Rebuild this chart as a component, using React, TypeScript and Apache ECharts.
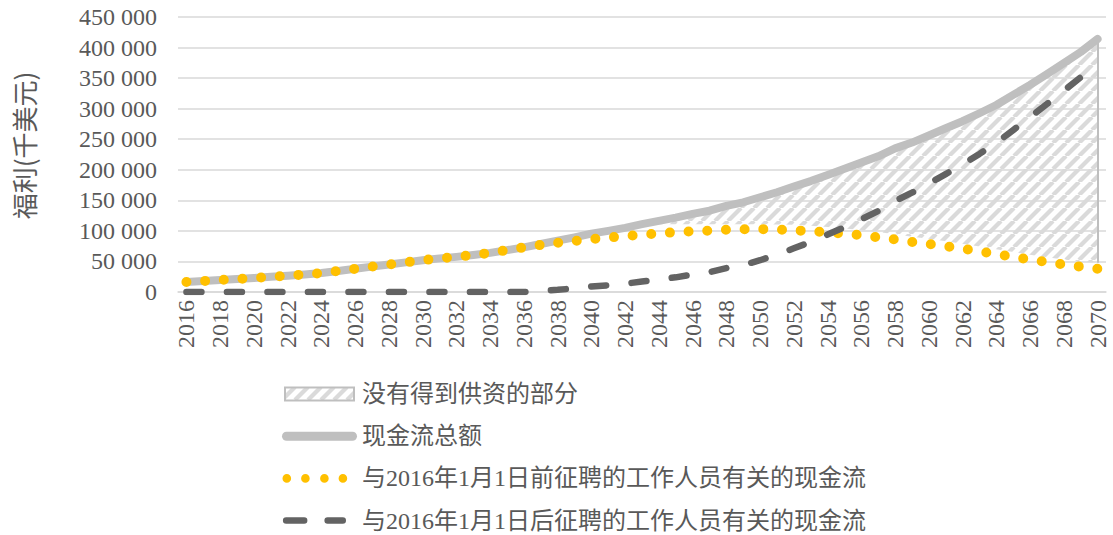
import React, { useEffect, useRef } from 'react';
import * as echarts from 'echarts';

const years = ['2016','2017','2018','2019','2020','2021','2022','2023','2024','2025','2026','2027','2028','2029','2030','2031','2032','2033','2034','2035','2036','2037','2038','2039','2040','2041','2042','2043','2044','2045','2046','2047','2048','2049','2050','2051','2052','2053','2054','2055','2056','2057','2058','2059','2060','2061','2062','2063','2064','2065','2066','2067','2068','2069','2070'];

const totalFlow = [16500,18000,19800,21300,22800,24800,26700,28700,31000,34500,38000,41500,45000,48500,52000,55000,57500,60500,64000,68500,73000,78500,84000,89500,95500,100000,105000,111000,116500,121800,127800,133000,140800,146800,155000,163200,172500,181500,191500,201500,212000,222000,235000,244500,256000,268000,279500,292500,306000,322500,339000,356600,374400,392800,414000];

const preFlow = [16500,18000,19800,21300,22800,24800,26700,28700,31000,34500,38000,41500,45000,48500,52000,55000,57500,60500,64000,68500,73000,77000,80500,83500,86500,89000,91500,93800,96000,97800,99300,100500,101800,102800,103000,102200,101000,99500,97500,95500,93000,89500,86000,82000,78500,75000,71000,66500,62000,57500,53000,49000,45000,41500,38000];

const postFlow = [0,0,0,0,0,0,0,0,0,0,0,0,0,0,0,0,0,0,0,0,0,1500,3500,6000,9000,11000,13500,17200,20500,24000,28500,32500,39000,44000,52000,61000,71500,82000,94000,106000,119000,132500,149000,162500,177500,193000,208500,226000,244000,265000,286000,307600,329400,351300,376000];

const fundedPart = [16500,18000,19800,21300,22800,24800,26700,28700,31000,34500,38000,41500,45000,48500,52000,55000,57500,60500,64000,68500,73000,78500,84000,89500,95500,100000,105000,110000,111000,111000,111000,111000,111000,111000,111000,110500,110000,108500,106500,104000,101500,98000,94500,90500,87000,83000,79000,74500,70000,65500,61000,57000,53000,50000,48000];

const seriesNames = [
  '没有得到供资的部分',
  '现金流总额',
  '与2016年1月1日前征聘的工作人员有关的现金流',
  '与2016年1月1日后征聘的工作人员有关的现金流',
];
const yAxisName = '福利(千美元)';

const FONT = "'Liberation Serif', 'Noto Sans CJK SC', serif";

function makeHatch() {
  const s = 13;
  const c = document.createElement('canvas');
  c.width = s;
  c.height = s;
  const ctx = c.getContext('2d');
  if (ctx) {
    ctx.strokeStyle = '#DADADA';
    ctx.lineWidth = 4.2;
    for (const o of [-s, 0, s]) {
      ctx.beginPath();
      ctx.moveTo(o, s);
      ctx.lineTo(o + s, 0);
      ctx.stroke();
    }
  }
  return { image: c.toDataURL(), repeat: 'repeat', imageWidth: s, imageHeight: s };
}

function fmt(v: number) {
  if (v === 0) return '0';
  return String(v).replace(/\B(?=(\d{3})+(?!\d))/g, ' ');
}

export default function App() {
  const ref = useRef<HTMLDivElement>(null);
  useEffect(() => {
    document.body.style.margin = '0';
    if (!ref.current) return;
    const chart = echarts.init(ref.current, undefined, { renderer: 'svg' });
    const hatch = makeHatch();
    const unfunded = totalFlow.map((t, i) => t - fundedPart[i]);
    const last = years.length - 1;
    const option: any = {
      animation: false,
      backgroundColor: '#ffffff',
      grid: { left: 178, right: 7, top: 17, bottom: 243 },
      legend: {
        orient: 'vertical',
        left: 281,
        top: 382,
        padding: 0,
        itemWidth: 75,
        itemHeight: 14,
        itemGap: 18.2,
        selectedMode: false,
        textStyle: { fontSize: 24, lineHeight: 24, color: '#595959', fontFamily: FONT },
        data: [
          {
            name: seriesNames[0],
            icon: 'path://M0,0M75,14M3,0.5L72,0.5L72,13.5L3,13.5Z',
            itemStyle: { color: hatch, borderColor: '#BFBFBF', borderWidth: 2 },
          },
          {
            name: seriesNames[1],
            icon: 'path://M0,0M75,14M4.5,2.5L70.5,2.5A4.5,4.5,0,0,1,70.5,11.5L4.5,11.5A4.5,4.5,0,0,1,4.5,2.5Z',
            itemStyle: { color: '#BFBFBF', borderWidth: 0, borderColor: 'transparent' },
          },
          {
            name: seriesNames[2],
            icon: 'path://M0,0M75,14M0.5,7A4.3,4.3,0,1,1,9.1,7A4.3,4.3,0,1,1,0.5,7ZM19.1,7A4.3,4.3,0,1,1,27.7,7A4.3,4.3,0,1,1,19.1,7ZM38.1,7A4.3,4.3,0,1,1,46.7,7A4.3,4.3,0,1,1,38.1,7ZM56.6,7A4.3,4.3,0,1,1,65.2,7A4.3,4.3,0,1,1,56.6,7Z',
            itemStyle: { color: '#FFC000', borderWidth: 0, borderColor: 'transparent' },
          },
          {
            name: seriesNames[3],
            icon: 'path://M0,0M75,14M4.15,3.75L22.15,3.75A3.25,3.25,0,0,1,22.15,10.25L4.15,10.25A3.25,3.25,0,0,1,4.15,3.75ZM45.65,3.75L60.75,3.75A3.25,3.25,0,0,1,60.75,10.25L45.65,10.25A3.25,3.25,0,0,1,45.65,3.75Z',
            itemStyle: { color: '#636363', borderWidth: 0, borderColor: 'transparent' },
          },
        ],
      },
      xAxis: {
        type: 'category',
        data: years,
        boundaryGap: true,
        axisTick: { show: false },
        axisLine: { show: true, lineStyle: { color: '#D9D9D9', width: 1.5 } },
        axisLabel: { interval: 1, rotate: 90, fontSize: 24, color: '#595959', fontFamily: FONT, margin: 8 },
      },
      yAxis: {
        type: 'value',
        min: 0,
        max: 450000,
        interval: 50000,
        axisLine: { show: false },
        axisTick: { show: false },
        splitLine: { lineStyle: { color: '#D9D9D9', width: 1.5 } },
        axisLabel: { fontSize: 24, color: '#595959', fontFamily: FONT, margin: 21, formatter: fmt },
        name: yAxisName,
        nameLocation: 'middle',
        nameGap: 142,
        nameRotate: 90,
        nameTextStyle: { fontSize: 26, color: '#595959', fontFamily: "'Noto Sans CJK SC', sans-serif", padding: [0, 0, 0, 18] },
      },
      series: [
        {
          name: 'funded',
          type: 'line',
          stack: 'gap',
          data: fundedPart,
          symbol: 'none',
          silent: true,
          lineStyle: { width: 0, opacity: 0 },
          z: 1,
        },
        {
          name: seriesNames[0],
          type: 'line',
          stack: 'gap',
          data: unfunded,
          symbol: 'none',
          silent: true,
          lineStyle: { width: 0, opacity: 0 },
          areaStyle: { color: hatch, opacity: 1 },
          z: 1,
          markLine: {
            silent: true,
            symbol: ['none', 'none'],
            label: { show: false },
            lineStyle: { color: '#BFBFBF', width: 2, type: 'solid' },
            data: [[{ coord: [years[last], fundedPart[last]] }, { coord: [years[last], totalFlow[last]] }]],
          },
        },
        {
          name: seriesNames[1],
          type: 'line',
          data: totalFlow,
          symbol: 'none',
          silent: true,
          lineStyle: { color: '#BFBFBF', width: 8, cap: 'round', join: 'round' },
          z: 2,
        },
        {
          name: seriesNames[2],
          type: 'line',
          data: preFlow,
          symbol: 'none',
          silent: true,
          lineStyle: { color: '#FFC000', width: 10, type: [0, 18.7], cap: 'round' },
          z: 3,
        },
        {
          name: seriesNames[3],
          type: 'line',
          data: postFlow,
          symbol: 'none',
          silent: true,
          lineStyle: { color: '#636363', width: 6.5, type: [15, 25.5], cap: 'round' },
          z: 4,
        },
      ],
    };
    chart.setOption(option);
    return () => chart.dispose();
  }, []);
  return <div ref={ref} style={{ width: 1113, height: 535 }} />;
}
